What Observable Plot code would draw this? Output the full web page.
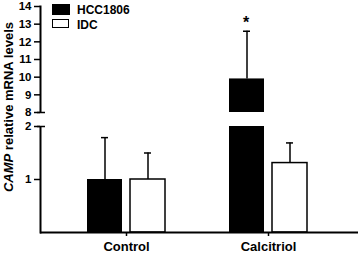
<!DOCTYPE html>
<html><head><meta charset="utf-8">
<script src="https://cdn.jsdelivr.net/npm/d3@7"></script>
<script src="https://cdn.jsdelivr.net/npm/@observablehq/plot@0.6"></script>
<style>
body{margin:0;background:#fff;}
#wrap{position:relative;width:358px;height:253px;font-family:"Liberation Sans",Arial,sans-serif;font-weight:bold;color:#000;}
#wrap svg{display:block;overflow:visible;}
.lg{position:absolute;}
.txt{position:absolute;font-size:12px;line-height:12px;white-space:nowrap;}
#ylab{position:absolute;left:8px;top:106.5px;font-size:13px;white-space:nowrap;transform:translate(-50%,-50%) rotate(-90deg);}
</style></head><body>
<div id="wrap">
  <div class="lg" style="left:52px;top:4px;width:18px;height:11px;background:#000"></div>
  <div class="txt" style="left:77px;top:4px">HCC1806</div>
  <div class="lg" style="left:52px;top:19px;width:15px;height:7px;border:1.5px solid #000;background:#fff"></div>
  <div class="txt" style="left:77px;top:19px">IDC</div>
  <div id="ylab"><i>CAMP</i> relative mRNA levels</div>
</div>
<script>
const groups = ["Control", "Calcitriol"];
const series = ["HCC1806", "IDC"];
const hccMean = [1.0, 9.9];
const hccErr = [0.79, 2.7];
const idcMean = [1.0, 1.31];
const idcErr = [0.50, 0.38];
const significance = ["", "*"];
const yTicks = [1, 2, 8, 9, 10, 11, 12, 13, 14];
const breakDomain = [2, 8];

const W = 358, H = 253, mL = 40, mR = 0, mT = 6, mB = 21;
const step = 142, barW = 35, gap = 8, capW = 7;
const half = step / 2, off = gap / 2 + barW / 2;

const hcc = groups.map((g, i) => ({group: g, mean: hccMean[i], top: hccMean[i] + hccErr[i], sig: significance[i]}));
const idc = groups.map((g, i) => ({group: g, mean: idcMean[i], top: idcMean[i] + idcErr[i]}));

const chart = Plot.plot({
  width: W, height: H,
  marginLeft: mL, marginRight: mR, marginTop: mT, marginBottom: mB,
  style: {fontFamily: "'Liberation Sans', Arial, sans-serif", background: "white", color: "black", overflow: "visible"},
  x: {type: "band", domain: groups, range: [126 - half, 268 + half], padding: 0},
  y: {type: "linear", domain: [0, 2, 8, 14], range: [H - mB, 126, 112, mT]},
  marks: [
    Plot.barY(hcc, {x: "group", y: "mean", fill: "black", insetLeft: half - gap / 2 - barW, insetRight: half + gap / 2}),
    Plot.barY(idc, {x: "group", y: "mean", fill: "white", stroke: "black", strokeWidth: 1.5, insetLeft: half + gap / 2, insetRight: half - gap / 2 - barW}),
    Plot.ruleX(hcc, {x: "group", y1: "mean", y2: "top", dx: -off, strokeWidth: 1.5}),
    Plot.ruleX(idc, {x: "group", y1: "mean", y2: "top", dx: off, strokeWidth: 1.5}),
    Plot.tickY(hcc, {x: "group", y: "top", strokeWidth: 1.5, insetLeft: half - off - capW / 2, insetRight: half + off - capW / 2}),
    Plot.tickY(idc, {x: "group", y: "top", strokeWidth: 1.5, insetLeft: half + off - capW / 2, insetRight: half - off - capW / 2}),
    Plot.text(hcc, {x: "group", y: "top", text: "sig", dx: -off - 1, dy: -8, fontSize: 16, fontWeight: "bold"}),
    Plot.frame({anchor: "left", strokeWidth: 2}),
    Plot.ruleY([0], {strokeWidth: 2}),
    Plot.rect([breakDomain], {y1: d => d[0], y2: d => d[1], fill: "white", insetLeft: -10}),
    Plot.axisY({ticks: yTicks, tickSize: 6, tickPadding: 3, label: null, fontSize: 11.5, fontWeight: "bold", strokeWidth: 1.5, tickFormat: d => d}),
    Plot.ruleY(breakDomain, {strokeWidth: 1.5, insetLeft: -3, insetRight: (W - mL - mR) - 5}),
    Plot.axisX({tickSize: 4, tickPadding: 5, label: null, fontSize: 13, fontWeight: "bold", strokeWidth: 1.5})
  ]
});
document.getElementById("wrap").prepend(chart);
chart.style.position = "absolute";
chart.style.left = "0";
chart.style.top = "0";
</script>
</body></html>
